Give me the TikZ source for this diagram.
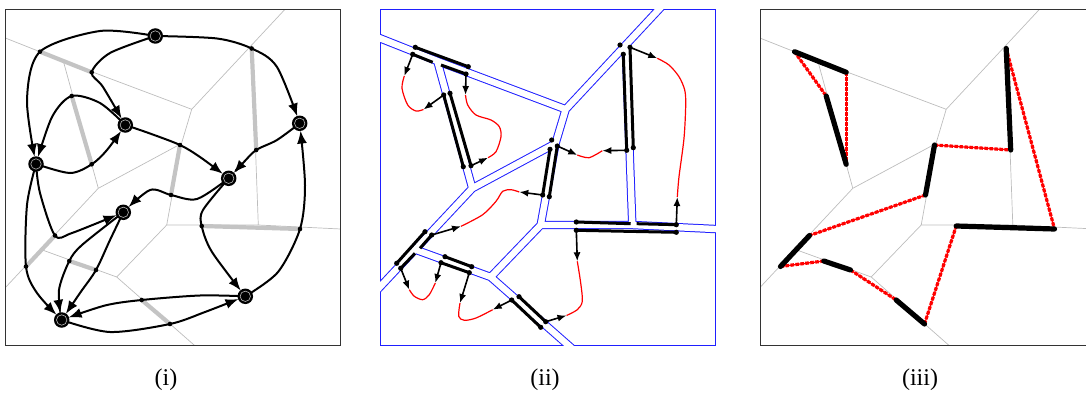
\documentclass[tikz,border=0pt]{standalone}
\usepackage{fontspec}
\setmainfont{Liberation Serif}
\usetikzlibrary{arrows.meta}
\definecolor{vgray}{HTML}{BDBDBD}
\definecolor{sgray}{HTML}{C4C4C4}
\definecolor{framec}{HTML}{333333}
\definecolor{vblue}{HTML}{1F1FFF}
\newcommand\voredges{(-4,34.3)--(63.3,61) (63.3,61)--(191.7,109.3) (191.7,109.3)--(251.7,45) (251.7,45)--(291.8,2) (251.7,45)--(258.3,225) (63.3,61)--(98.3,188.3) (98.3,188.3)--(181.5,143.5) (181.5,143.5)--(191.7,109.3) (181.5,143.5)--(166.7,225) (166.7,225)--(258.3,225) (258.3,225)--(351,229.5) (166.7,225)--(116.7,277) (116.7,277)--(202,352) (116.7,277)--(41,249.5) (98.3,188.3)--(41,249.5) (41,249.5)--(-1,294.4)}
\newcommand\mkpts[1]{%
\coordinate (#11) at (40,51.7);
\coordinate (#12) at (91.7,72.3);
\coordinate (#13) at (71.7,96);
\coordinate (#14) at (91.7,164.3);
\coordinate (#15) at (251.7,48.5);
\coordinate (#16) at (256.2,150);
\coordinate (#17) at (180,145);
\coordinate (#18) at (171,195);
\coordinate (#19) at (201.7,226);
\coordinate (#110) at (300,229);
\coordinate (#111) at (55,235.5);
\coordinate (#112) at (26,266.5);
\coordinate (#113) at (69.3,261);
\coordinate (#114) at (96,270);
\coordinate (#115) at (141.7,300);
\coordinate (#116) at (170,324);}
\begin{document}
\begin{tikzpicture}[x=1pt,y=-1pt,
  vor/.style={draw=vgray, line width=0.7pt},
  sg/.style={draw=sgray, line width=4.2pt},
  cv/.style={line width=2pt, -{Latex[length=13pt,width=10pt]}, shorten >=7.3pt},
  big/.style={circle, fill=black, inner sep=0pt, minimum size=15.5pt,
    path picture={\draw[gray!55, line width=0.6pt] (path picture bounding box.center) circle (5.2pt);}},
  fr/.style={draw=framec, line width=1.3pt},
  bl/.style={line width=3pt, black},
  ar/.style={line width=1.6pt, -{Latex[length=9pt,width=7pt]}},
  rc/.style={red, line width=1.2pt},
  bk/.style={line width=5.2pt, line cap=round},
  rdA/.style={red, line width=1.2pt},
  rdB/.style={red, line width=3.2pt, dash pattern=on 3.6pt off 1.4pt},
  lab/.style={font=\fontsize{24}{28}\selectfont, inner sep=0pt}]
\useasboundingbox (0,0) rectangle (1086,396);

%%%%%%%%%%%%%%%% panel (i)
\begin{scope}
  \mkpts{i}
  \coordinate (A) at (155.3,36);
  \coordinate (B) at (125.3,125);
  \coordinate (C) at (36,164);
  \coordinate (D) at (299.7,123.3);
  \coordinate (E) at (228.7,178.3);
  \coordinate (F) at (123.3,212.3);
  \coordinate (G) at (245.3,296.3);
  \coordinate (H) at (61.7,320);
  \begin{scope}
    \clip (5.8,9.5) rectangle (340.8,345.3);
    \draw[vor] \voredges;
  \end{scope}
  \draw[fr] (5.8,9.5) rectangle (340.8,345.3);
  \draw[sg] (i1)--(i2) (i3)--(i4) (i5)--(i6) (i7)--(i8) (i9)--(i10) (i11)--(i12) (i13)--(i14) (i15)--(i16);
  \draw[cv] plot[smooth] coordinates {(A) (100,31) (i1) (27,100) (C)};
  \draw[cv] plot[smooth] coordinates {(A) (110,53) (i2) (103,87) (B)};
  \draw[cv] plot[smooth] coordinates {(A) (217,38.5) (i5) (277,67) (D)};
  \draw[cv] plot[smooth] coordinates {(B) (100,103) (i3) (52,117) (C)};
  \draw[cv] plot[smooth] coordinates {(C) (70,173) (i4) (107,150) (B)};
  \draw[cv] plot[smooth] coordinates {(B) (150,133.5) (i7) (200,157) (E)};
  \draw[cv] plot[smooth] coordinates {(D) (277,140) (i6) (243,163) (E)};
  \draw[cv] plot[smooth] coordinates {(E) (197,199) (i8) (150,190) (F)};
  \draw[cv] plot[smooth] coordinates {(C) (40,193) (i11) (72,233) (F)};
  \draw[cv] plot[smooth] coordinates {(C) (27,205) (i12) (37,293) (H)};
  \draw[cv] plot[smooth] coordinates {(F) (82,245) (i13) (59,290) (H)};
  \draw[cv] plot[smooth] coordinates {(F) (110,240) (i14) (80,293) (H)};
  \draw[cv] plot[smooth] coordinates {(E) (203,210) (i9) (212,252) (G)};
  \draw[cv] plot[smooth] coordinates {(G) (278,272) (i10) (305,185) (D)};
  \draw[cv] plot[smooth] coordinates {(G) (200,295.5) (i15) (105,305.5) (H)};
  \draw[cv] plot[smooth] coordinates {(H) (110,332) (i16) (205,312) (G)};
  \foreach \k in {1,...,16} {\fill (i\k) circle (2.3pt);}
  \foreach \n in {A,B,C,D,E,F,G,H} {\node[big] (n\n) at (\n) {};}
  \node[lab] (lab1) at (166,380) {(i)};
\end{scope}

%%%%%%%%%%%%%%%% panel (ii)
\begin{scope}[shift={(374,0)}]
  \draw[vblue, line width=1pt] (6,9.5) rectangle (341,345.3);
  \begin{scope}
    \clip (6,9.5) rectangle (341,345.3);
    \draw[vblue, line width=8.4pt] \voredges;
  \end{scope}
  \begin{scope}
    \clip (3,6.5) rectangle (344,348.3);
    \draw[white, line width=6.4pt] \voredges;
  \end{scope}
\end{scope}
% dots / segment ends
\coordinate (d1) at (415.3,47.3); \coordinate (d2) at (468.3,66.7);
\coordinate (d3) at (412.7,54.3); \coordinate (e3) at (432.7,62.3);
\coordinate (e4) at (441,65);     \coordinate (d4) at (466,74);
\coordinate (d5) at (443.7,95);   \coordinate (d6) at (463.3,166.7);
\coordinate (d7) at (450,93.3);   \coordinate (d8) at (471,165.7);
\coordinate (d9) at (623.3,54.3); \coordinate (d10) at (626.7,150.3);
\coordinate (d11) at (630,47.3);  \coordinate (d12) at (633.3,147.7);
\coordinate (d13) at (620,45);
\coordinate (d14) at (550,149.3); \coordinate (d15) at (542.7,195);
\coordinate (d16) at (557.3,146); \coordinate (d17) at (549.3,196.7);
\coordinate (d18) at (551.7,140);
\coordinate (d19) at (576.3,222); \coordinate (e19) at (630.7,223.7);
\coordinate (e20) at (636.7,223.7); \coordinate (d20) at (676.3,224.7);
\coordinate (d21) at (576.3,230.3); \coordinate (d22) at (676.3,232.3);
\coordinate (d23) at (425,231.7); \coordinate (d24) at (396.7,263.3);
\coordinate (d25) at (431.7,235); \coordinate (e25) at (420,248.3);
\coordinate (e26) at (415,253.3); \coordinate (d26) at (400.7,268.3);
\coordinate (d27) at (445,256.7); \coordinate (d28) at (471.7,266.7);
\coordinate (d29) at (441,262.7); \coordinate (d30) at (469.3,272.7);
\coordinate (d31) at (519,296.7); \coordinate (d32) at (545.7,321.7);
\coordinate (d33) at (511.7,300); \coordinate (d34) at (540.7,327.3);
% arrow tips
\coordinate (t1) at (404.3,76);   \coordinate (t2) at (465.5,95);
\coordinate (t3) at (423.5,109.5);\coordinate (t4) at (488,157.7);
\coordinate (t5) at (657.3,58.3); \coordinate (t6) at (677.3,197);
\coordinate (t7) at (577.3,155);  \coordinate (t8) at (602.3,150.7);
\coordinate (t9) at (577.3,261.3);\coordinate (t10) at (566.5,315.5);
\coordinate (t11) at (519.3,192); \coordinate (t12) at (461,226.3);
\coordinate (t13) at (409.3,289.7);\coordinate (t14) at (435.3,283);
\coordinate (t15) at (460,303);   \coordinate (t16) at (492.7,309.7);
% black doubled segments
\draw[bl] (d1)--(d2) (d3)--(e3) (e4)--(d4)
  (d5)--(d6) (d7)--(d8)
  (d9)--(d10) (d11)--(d12)
  (d14)--(d15) (d16)--(d17)
  (d19)--(e19) (e20)--(d20) (d21)--(d22)
  (d23)--(d24) (d25)--(e25) (e26)--(d26)
  (d27)--(d28) (d29)--(d30)
  (d31)--(d32) (d33)--(d34);
% red curves
\draw[rc] plot[smooth] coordinates {(t1) (402,88.3) (407.7,105) (416,111) (t3)};
\draw[rc] plot[smooth] coordinates {(t2) (467.7,105) (476,115) (491,120) (499.3,126.7) (501,136.7) (496,151.7) (t4)};
\draw[rc] plot[smooth] coordinates {(t5) (669,65) (679,76.7) (684.7,90) (685.7,105) (684,138.3) (679,176.7) (t6)};
\draw[rc] plot[smooth] coordinates {(t7) (589,157.7) (t8)};
\draw[rc] plot[smooth] coordinates {(t9) (580.7,283) (582.3,301.3) (577.3,309.7) (t10)};
\draw[rc] plot[smooth] coordinates {(t12) (482.7,214.7) (496,201.3) (502.7,191.3) (511,189.7) (t11)};
\draw[rc] plot[smooth] coordinates {(t13) (414.3,296.3) (422.7,299.7) (429.3,294.7) (t14)};
\draw[rc] plot[smooth] coordinates {(t15) (458.7,316.3) (464.3,320.3) (476,318) (t16)};
% arrows
\draw[ar] (d3)--(t1); \draw[ar] (d4)--(t2); \draw[ar] (d5)--(t3); \draw[ar] (d8)--(t4);
\draw[ar] (d11)--(t5); \draw[ar] (d20)--(t6); \draw[ar] (d16)--(t7); \draw[ar] (d10)--(t8);
\draw[ar] (d21)--(t9); \draw[ar] (d32)--(t10); \draw[ar] (d15)--(t11); \draw[ar] (d25)--(t12);
\draw[ar] (d26)--(t13); \draw[ar] (d29)--(t14); \draw[ar] (d30)--(t15); \draw[ar] (d33)--(t16);
\foreach \k in {1,...,34} {\fill (d\k) circle (2.6pt);}
\node[lab] (lab2) at (545,380) {(ii)};

%%%%%%%%%%%%%%%% panel (iii)
\begin{scope}[shift={(754.5,0)}]
  \mkpts{c}
  \begin{scope}
    \clip (5.8,9.5) rectangle (340.8,345.3);
    \draw[vor] \voredges;
  \end{scope}
  \draw[fr] (5.8,9.5) rectangle (340.8,345.3);
  \foreach \a/\b in {1/3,2/4,7/6,5/10,8/11,12/13,14/15,16/9} {
    \draw[rdA] (c\a)--(c\b);
    \draw[rdB] (c\a)--(c\b);}
  \draw[bk] (c1)--(c2) (c3)--(c4) (c5)--(c6) (c7)--(c8) (c9)--(c10) (c11)--(c12) (c13)--(c14) (c15)--(c16);
\end{scope}
\node[lab] (lab3) at (920,380) {(iii)};
\end{tikzpicture}
\end{document}
